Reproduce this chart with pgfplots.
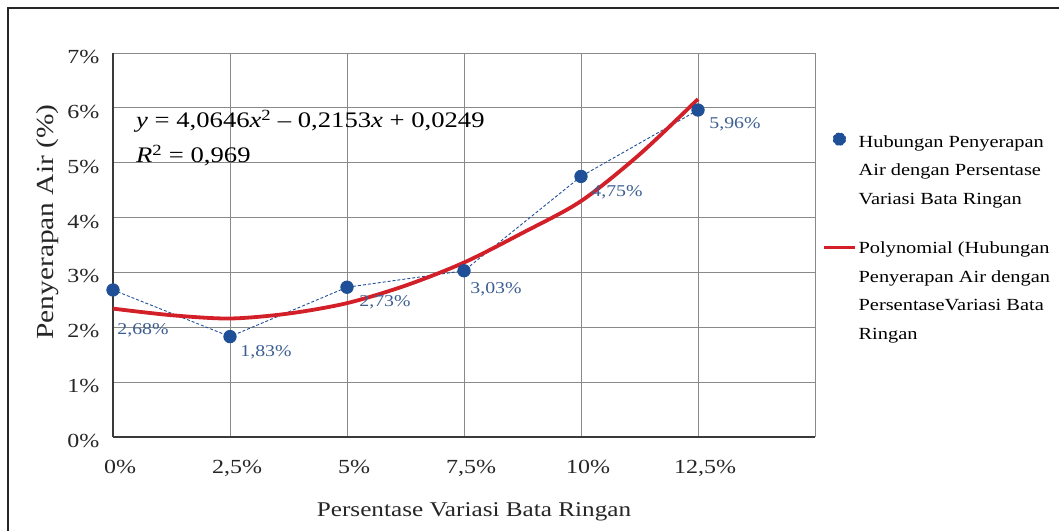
\documentclass[border=0pt]{standalone}
\usepackage{pgfplots}
\pgfplotsset{compat=1.18}
\usepackage{fontspec}
\setmainfont{Liberation Serif}[FakeStretch=1.2]

\definecolor{ptblue}{HTML}{1F4F96}
\definecolor{lblblue}{HTML}{3C5E91}
\definecolor{fitred}{HTML}{D21F28}
\definecolor{gridgray}{HTML}{8A8A8A}
\definecolor{axisdark}{HTML}{3A3A3A}

% measured absorption values and label offsets
\pgfplotstableread{
x     y     dx   dy
0     2.68  4    -40
2.5   1.83  10   -16
5     2.73  12   -15
7.5   3.03  6    -19
10    4.75  10   -16
12.5  5.96  11   -14
}\absorption

% polynomial trend curve as drawn
\pgfplotstableread{
x      y
0      2.34
1.25   2.22
2.5    2.16
3.75   2.25
5      2.44
6.25   2.76
7.5    3.18
8.75   3.72
10     4.30
11.25  5.15
12.5   6.16
}\trend

\begin{document}
\begin{tikzpicture}[x=1bp,y=1bp]
\path[use as bounding box] (0,0) rectangle (1059,531);
\draw[line width=1.3bp, black!85] (8,0) -- (8,523) -- (1059,523);

\begin{axis}[
  at={(113bp,94bp)}, anchor=south west,
  scale only axis, width=702bp, height=384bp,
  xmin=0, xmax=15, ymin=0, ymax=7,
  axis x line*=bottom, axis y line*=left,
  axis line style={axisdark, line width=1.6bp},
  x axis line style={-}, y axis line style={-},
  xtick={0,2.5,5,7.5,10,12.5},
  xticklabels={0\%,{2,5\%},5\%,{7,5\%},10\%,{12,5\%}},
  extra x ticks={15}, extra x tick labels={},
  ytick={0,1,2,3,4,5,6,7},
  yticklabels={0\%,1\%,2\%,3\%,4\%,5\%,6\%,7\%},
  grid=major,
  grid style={gridgray, line width=0.9bp},
  major tick length=0pt,
  tick label style={font=\fontsize{20bp}{24bp}\selectfont, text=black!85},
  xticklabel style={xshift=7bp, yshift=-20bp},
  yticklabel style={xshift=-10bp, yshift=-4bp},
  clip=false,
  legend style={
    at={(710bp,310bp)}, anchor=north west,
    draw=none, fill=none,
    font=\fontsize{17bp}{28.5bp}\selectfont,
    nodes={text depth=, text height=, inner sep=0pt},
    cells={anchor=base west},
    row sep=21bp,
    column sep=2bp,
    inner sep=0pt,
  },
]
\addplot[ptblue, densely dashed, line width=0.9bp,
  mark=*, mark size=6.2bp, mark options={solid, fill=ptblue, draw=ptblue},
  visualization depends on={\thisrow{dx} \as \dx},
  visualization depends on={\thisrow{dy} \as \dy},
  nodes near coords={\pgfmathprintnumber[fixed, fixed zerofill, precision=2, use comma, assume math mode=true]{\pgfplotspointmeta}\%},
  point meta=explicit,
  every node near coord/.append style={
    anchor=west, xshift=\dx bp, yshift=\dy bp, text=lblblue,
    font=\fontsize{16.5bp}{20bp}\selectfont, inner sep=0pt},
  legend image code/.code={
    \fill[ptblue] (15bp,8bp) circle (6.2bp);}
] table[x=x, y=y, meta=y] {\absorption};
\addlegendentry{\begin{tabular}[t]{@{}l@{}}Hubungan Penyerapan\\Air dengan Persentase\\Variasi Bata Ringan\end{tabular}}

\addplot[fitred, line width=3.8bp, smooth, no marks,
  legend image code/.code={
    \draw[fitred, line width=2.4bp] (0bp,6bp) -- (31bp,6bp);}
] table[x=x, y=y] {\trend};
\addlegendentry{\begin{tabular}[t]{@{}l@{}}Polynomial (Hubungan\\Penyerapan Air dengan\\PersentaseVariasi Bata\\Ringan\end{tabular}}
\end{axis}

\node[anchor=base west, font=\fontsize{22.2bp}{27bp}\selectfont, inner sep=0pt] at (136,403)
  {\textit{y} = 4,0646\textit{x}\textsuperscript{2} – 0,2153\textit{x} + 0,0249};
\node[anchor=base west, font=\fontsize{22.2bp}{27bp}\selectfont, inner sep=0pt] at (136,368)
  {\textit{R}\textsuperscript{2} = 0,969};
\node[anchor=base, font=\fontsize{21bp}{25bp}\selectfont, text=black!85, inner sep=0pt] at (474,14)
  {Persentase Variasi Bata Ringan};
\node[rotate=90, anchor=base, font=\fontsize{24.5bp}{30bp}\selectfont, text=black!85, inner sep=0pt] at (53,309)
  {Penyerapan Air (\%)};
\end{tikzpicture}
\end{document}
